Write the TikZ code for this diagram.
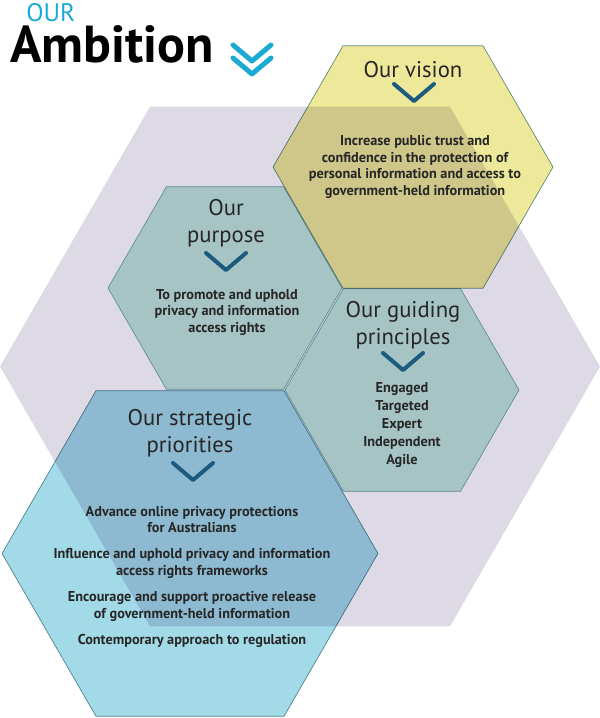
\documentclass[tikz,border=0pt]{standalone}
\usepackage{fontspec}
\setmainfont{PT Sans}
\definecolor{lavender}{HTML}{DEDAE5}
\definecolor{tealhex}{HTML}{A6C4C4}
\definecolor{visionyellow}{HTML}{EEE99A}
\definecolor{stratblue}{HTML}{A3DAE8}
\definecolor{hexline}{HTML}{5E8C96}
\definecolor{chevblue}{HTML}{1D5A7F}
\definecolor{titlecyan}{HTML}{1BAAD3}
\begin{document}
\begin{tikzpicture}[x=0.75pt, y=-0.75pt,
    hexedge/.style={draw=hexline, line width=0.5pt},
    headtxt/.style={font=\fontsize{17}{20}\selectfont, text=black!85, align=center, inner sep=0pt},
    bodytxt/.style={font=\fontsize{10.7}{12.5}\selectfont\bfseries, text=black!85, align=center, inner sep=0pt},
    chevline/.style={draw=chevblue, line width=3pt, line cap=round, line join=round},
    pics/chev/.style={code={\draw[chevline] (-20,-8.5) -- (0,8.5) -- (20,-8.5);}}]
    \useasboundingbox (0,0) rectangle (600,718);

    % Title
    \node[titlecyan, font=\fontsize{19}{19}\selectfont, anchor=base west, inner sep=0pt, text depth=0pt] (our) at (26,21.5) {OUR};
    \node[font=\fontsize{39}{39}\selectfont\bfseries, anchor=base west, inner sep=0pt, text height=27pt] (ambition) at (10,62) {Ambition};
    \foreach \dy in {0,13} {
        \draw[titlecyan, line width=3.75pt, line cap=round, line join=round]
            (233,45+\dy) -- (252,61+\dy) -- (271,45+\dy);
    }

    % Big background hexagon - lavender
    \fill[lavender] (300,366.5) ++(0:300) \foreach \a in {120,180,240,300,0} {-- ++(\a:300)} -- cycle;

    % Purpose and guiding principles - teal
    \filldraw[tealhex, hexedge] (225,288) ++(0:117) \foreach \a in {120,180,240,300,0} {-- ++(\a:117)} -- cycle;
    \filldraw[tealhex, hexedge] (402,390) ++(0:117) \foreach \a in {120,180,240,300,0} {-- ++(\a:117)} -- cycle;

    % Vision - yellow, multiplied over the background
    \filldraw[visionyellow, hexedge, blend mode=multiply] (413,167) ++(0:140) \foreach \a in {120,180,240,300,0} {-- ++(\a:140)} -- cycle;

    % Strategic priorities - blue, multiplied over the background
    \filldraw[stratblue, hexedge, blend mode=multiply] (190,553.5) ++(0:188) \foreach \a in {120,180,240,300,0} {-- ++(\a:188)} -- cycle;

    % Vision text
    \node[headtxt, anchor=base] (visionhead) at (413,77) {Our vision};
    \pic at (414,92.5) {chev};
    \node[bodytxt] (visiontxt) at (415,167) {Increase public trust and\\confidence in the protection of\\personal information and access to\\government-held information};

    % Purpose text
    \node[headtxt] (purposehead) at (226,223) {Our\\purpose};
    \pic at (226,261.5) {chev};
    \node[bodytxt] (purposetxt) at (227,312.5) {To promote and uphold\\privacy and information\\access rights};

    % Guiding principles text
    \node[headtxt] (principleshead) at (403,325) {Our guiding\\principles};
    \pic at (403,361.5) {chev};
    \node[bodytxt, font=\fontsize{10.7}{13.5}\selectfont\bfseries] (principlestxt) at (402,425) {Engaged\\Targeted\\Expert\\Independent\\Agile};

    % Strategic priorities text
    \node[headtxt] (strategichead) at (190,433) {Our strategic\\priorities};
    \pic at (193,471.5) {chev};
    \node[bodytxt] (strategictxt) at (192,576.5) {Advance online privacy protections\\for Australians\\[7pt]
        Influence and uphold privacy and information\\access rights frameworks\\[7pt]
        Encourage and support proactive release\\of government-held information\\[7pt]
        Contemporary approach to regulation};
\end{tikzpicture}
\end{document}
